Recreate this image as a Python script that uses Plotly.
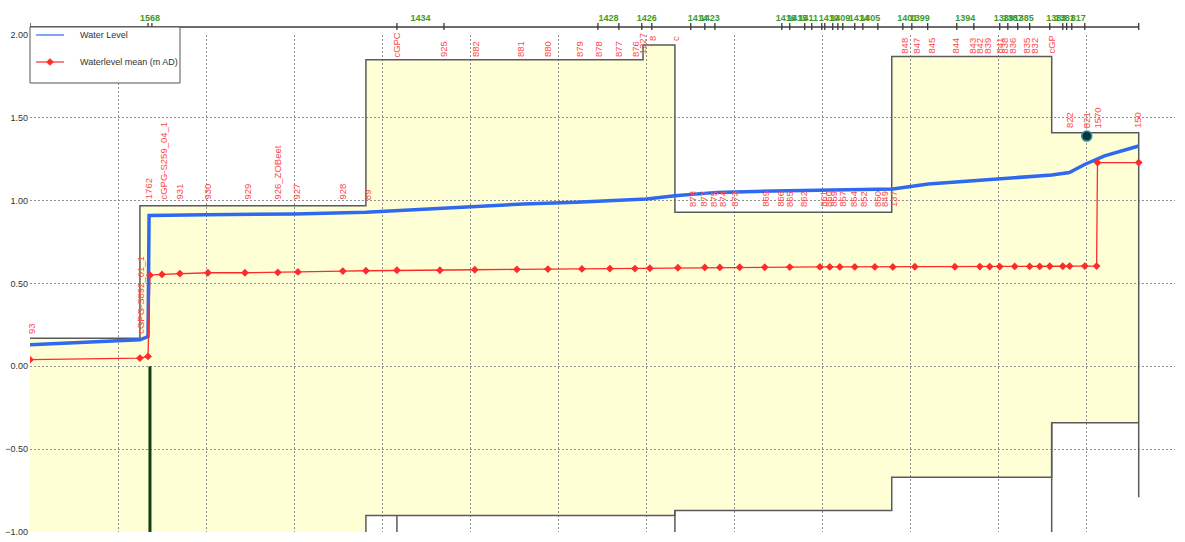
import plotly.graph_objects as go

# ---------------------------------------------------------------------------
# Reach boundaries along the long section (chainage, m) and reach names
# ---------------------------------------------------------------------------
node_ch = [0, 670, 692, 2083, 2350, 3224, 3343, 3473, 3530, 3751, 3831, 3888,
           4268, 4313, 4398, 4438, 4495, 4512, 4557, 4586, 4614, 4682, 4728,
           4813, 4955, 5006, 5096, 5261, 5358, 5505, 5551, 5607, 5675, 5789,
           5863, 5885, 5914, 5988, 6294]
reach_names = ["", "1568", "", "1434", "", "1428", "", "1426", "", "1414",
               "1423", "", "1416", "1415", "1411", "", "", "1410", "", "1409",
               "", "1414", "1405", "", "1401", "1399", "", "1394", "", "1389",
               "1387", "1385", "", "1383", "1381", "", "817", ""]

# ---------------------------------------------------------------------------
# Channel sections: start chainages (+ end), crest level and bed level
# ---------------------------------------------------------------------------
section_ch = [0, 624, 1907, 3480, 3661, 4892, 5800, 6294]
section_top = [0.17, 0.97, 1.85, 1.94, 0.93, 1.87, 1.41]
section_bed = [-1.2, -1.2, -0.90, -0.90, -0.87, -0.67, -0.34]
outfall_invert = -0.79
break_ch = [2083, 3661, 5800]
break_level = [-0.90, -0.87, -0.34]

weir_ch = 681
weir_crest = 0.0
gauge_ch = 5999
gauge_level = 1.39

# ---------------------------------------------------------------------------
# Water level profile (m AD)
# ---------------------------------------------------------------------------
wl_ch = [0, 300, 624, 670, 676, 1000, 1500, 1907, 2083, 2500, 2800, 3100,
         3500, 3661, 3900, 4300, 4600, 4898, 5100, 5350, 5600, 5800, 5900,
         5990, 6100, 6294]
wl = [0.13, 0.145, 0.16, 0.18, 0.91, 0.915, 0.92, 0.93, 0.94, 0.96, 0.98,
      0.99, 1.01, 1.03, 1.05, 1.06, 1.065, 1.07, 1.10, 1.12, 1.14, 1.155,
      1.17, 1.22, 1.27, 1.33]

# Mean water level at nodes (m AD)
mean_ch = [0, 624, 670, 681, 749, 851, 1010, 1220, 1407, 1521, 1776, 1907,
           2083, 2327, 2525, 2764, 2940, 3133, 3292, 3434, 3519, 3678, 3831,
           3916, 4029, 4171, 4313, 4484, 4540, 4597, 4682, 4796, 4898, 5023,
           5250, 5392, 5448, 5505, 5590, 5675, 5732, 5789, 5863, 5902, 5988,
           6055, 6060, 6294]
mean_wl = [0.04, 0.05, 0.06, 0.55, 0.555, 0.56, 0.565, 0.565, 0.567, 0.57,
           0.575, 0.577, 0.58, 0.58, 0.583, 0.585, 0.587, 0.588, 0.59, 0.59,
           0.592, 0.595, 0.597, 0.597, 0.598, 0.598, 0.599, 0.60, 0.60, 0.60,
           0.60, 0.60, 0.60, 0.601, 0.601, 0.602, 0.602, 0.602, 0.603, 0.603,
           0.603, 0.604, 0.604, 0.605, 0.605, 0.605, 1.23, 1.23]

# ---------------------------------------------------------------------------
# Node labels: name, chainage, base level of the label
# ---------------------------------------------------------------------------
label_names = ["93", "cGPG-S892_01_1",
               "1762", "cGPG-S259_04_1", "931", "930", "929", "926_ZOBeet",
               "927", "928", "89",
               "cGPC", "925", "882", "881", "880", "879", "878", "877", "876",
               "1227", "8", "c",
               "878", "877", "875", "874", "873", "869", "866", "865", "862",
               "861", "860", "859", "857", "854", "852", "850", "849", "137",
               "848", "847", "845", "844", "843", "842", "839", "841", "838",
               "836", "835", "832", "cGP",
               "822", "821", "1570", "150"]
label_ch = [10, 630,
            670, 760, 851, 1010, 1237, 1407, 1515, 1776, 1913,
            2083, 2344, 2525, 2781, 2934, 3116, 3224, 3337, 3434, 3479, 3530,
            3661,
            3757, 3819, 3876, 3927, 3995, 4171, 4256, 4308, 4387, 4500, 4529,
            4557, 4608, 4671, 4728, 4807, 4847, 4898,
            4966, 5034, 5119, 5255, 5352, 5392, 5437, 5505, 5533, 5579, 5658,
            5704, 5800,
            5902, 5999, 6061, 6288]
label_base = [0.19, 0.19,
              1.0, 1.0, 1.0, 1.0, 1.0, 1.0, 1.0, 1.0, 1.0,
              1.86, 1.86, 1.86, 1.86, 1.86, 1.86, 1.86, 1.86, 1.86, 1.88,
              1.96, 1.96,
              0.955, 0.955, 0.955, 0.955, 0.955, 0.955, 0.955, 0.955, 0.955,
              0.955, 0.955, 0.955, 0.955, 0.955, 0.955, 0.955, 0.955, 0.955,
              1.88, 1.88, 1.88, 1.88, 1.88, 1.88, 1.88, 1.88, 1.88, 1.88,
              1.88, 1.88, 1.88,
              1.43, 1.43, 1.43, 1.43]

legend_names = ["Water Level", "Waterlevel mean (m AD)"]

x_ticks = list(range(0, 6501, 500))
y_ticks = [-1.0, -0.5, 0.0, 0.5, 1.0, 1.5, 2.0]

# ---------------------------------------------------------------------------
FONT = "Liberation Sans, Arial, sans-serif"
OUTLINE = "#5a5a5a"
FILL = "#FFFFD6"
BLUE = "#2F69F0"
RED = "#FF2A2A"
LABEL_RED = "#FF4A4A"
GREEN_TXT = "#3C9A2A"

W, H = 1185, 542
ML, MR, MT, MB = 30, 10, 35, 10
PW, PH = W - ML - MR, H - MT - MB


def px_x(px):
    """Horizontal pixel position -> paper fraction."""
    return (px - ML) / PW


def px_y(py):
    """Vertical pixel position -> paper fraction."""
    return (H - MB - py) / PH


fig = go.Figure()

# Section fill as a stepped polygon drawn under the grid
pts = []
for i, t in enumerate(section_top):
    pts.append((section_ch[i], t))
    pts.append((section_ch[i + 1], t))
for i in reversed(range(len(section_bed))):
    pts.append((section_ch[i + 1], section_bed[i]))
    pts.append((section_ch[i], section_bed[i]))
path = "M " + " L ".join(f"{x},{y}" for x, y in pts) + " Z"
fig.add_shape(type="path", path=path, xref="x", yref="y", layer="below",
              fillcolor=FILL, line=dict(width=0))

# Section outlines
top_x, top_y = [], []
for i, t in enumerate(section_top):
    top_x += [section_ch[i], section_ch[i + 1]]
    top_y += [t, t]
top_x.append(section_ch[-1])
top_y.append(outfall_invert)
fig.add_trace(go.Scatter(x=top_x, y=top_y, mode="lines",
                         line=dict(color=OUTLINE, width=1.5),
                         showlegend=False, hoverinfo="skip"))

bed_x, bed_y = [section_ch[2]], [section_bed[0]]
for i in range(2, len(section_bed)):
    bed_x += [section_ch[i], section_ch[i + 1]]
    bed_y += [section_bed[i], section_bed[i]]
fig.add_trace(go.Scatter(x=bed_x, y=bed_y, mode="lines",
                         line=dict(color=OUTLINE, width=1.5),
                         showlegend=False, hoverinfo="skip"))
for bx, bl in zip(break_ch, break_level):
    fig.add_trace(go.Scatter(x=[bx, bx], y=[bl, section_bed[0]], mode="lines",
                             line=dict(color=OUTLINE, width=1.5),
                             showlegend=False, hoverinfo="skip"))

# Weir
fig.add_trace(go.Scatter(x=[weir_ch, weir_ch], y=[weir_crest, section_bed[0]],
                         mode="lines", line=dict(color="#123F12", width=3),
                         showlegend=False, hoverinfo="skip"))

# Water level and mean level
fig.add_trace(go.Scatter(x=wl_ch, y=wl, mode="lines",
                         line=dict(color=BLUE, width=3.5),
                         showlegend=False, name=legend_names[0]))
fig.add_trace(go.Scatter(x=mean_ch, y=mean_wl, mode="lines+markers",
                         line=dict(color=RED, width=1.3),
                         marker=dict(symbol="diamond", size=6, color=RED),
                         showlegend=False, name=legend_names[1]))

# Gauge point
fig.add_trace(go.Scatter(x=[gauge_ch], y=[gauge_level], mode="markers",
                         marker=dict(size=10, color="#0D3340",
                                     line=dict(color="#2B8E9C", width=1.5)),
                         showlegend=False, hoverinfo="skip"))

# Reach name axis along the top
mid = [(node_ch[i] + node_ch[i + 1]) / 2 for i in range(len(reach_names))]
lab_vals = [m for m, n in zip(mid, reach_names) if n]
lab_text = [f"<b>{n}</b>" for n in reach_names if n]
fig.add_trace(go.Scatter(x=[None], y=[None], xaxis="x2", showlegend=False,
                         hoverinfo="skip"))

# Top chainage line with reach boundary ticks
y_line = px_y(27)
fig.add_shape(type="line", xref="x", yref="paper", x0=node_ch[0],
              x1=node_ch[-1], y0=y_line, y1=y_line,
              line=dict(color="#3a3a3a", width=1.5))
for c in node_ch:
    fig.add_shape(type="line", xref="x", yref="paper", x0=c, x1=c,
                  y0=px_y(30), y1=px_y(23),
                  line=dict(color="#3a3a3a", width=1.3))

# Legend box in the top-left corner
fig.add_shape(type="rect", xref="paper", yref="paper",
              x0=px_x(30), x1=px_x(180), y0=px_y(83), y1=px_y(27),
              fillcolor="white", line=dict(color="#555555", width=1),
              layer="above")
legend_rows = [35, 62]
legend_colors = [BLUE, RED]
for name, row, col in zip(legend_names, legend_rows, legend_colors):
    fig.add_shape(type="line", xref="paper", yref="paper",
                  x0=px_x(36), x1=px_x(64), y0=px_y(row), y1=px_y(row),
                  line=dict(color=col, width=1.2), layer="above")
    fig.add_annotation(xref="paper", yref="paper", x=px_x(78), y=px_y(row),
                       text=name, showarrow=False, xanchor="left",
                       yanchor="middle",
                       font=dict(family=FONT, size=9, color="#333333"))
cx, cy = 50, legend_rows[1]
fig.add_shape(type="path", xref="paper", yref="paper", layer="above",
              path=(f"M {px_x(cx - 3.5)},{px_y(cy)} L {px_x(cx)},{px_y(cy - 3.5)} "
                    f"L {px_x(cx + 3.5)},{px_y(cy)} L {px_x(cx)},{px_y(cy + 3.5)} Z"),
              fillcolor=RED, line=dict(color=RED, width=0.5))

# Node labels
for name, c, b in zip(label_names, label_ch, label_base):
    fig.add_annotation(x=c, y=b, text=name, textangle=-90, showarrow=False,
                       xanchor="center", yanchor="bottom", borderpad=0,
                       font=dict(family=FONT, size=9.5, color=LABEL_RED))

grid = dict(showgrid=True, gridcolor="#8e8e8e", griddash="2px,2px",
            gridwidth=1, zeroline=False, showline=False)
fig.update_layout(
    width=W, height=H,
    margin=dict(l=ML, r=MR, t=MT, b=MB),
    paper_bgcolor="white", plot_bgcolor="rgba(0,0,0,0)",
    font=dict(family=FONT, size=9, color="#333333"),
    xaxis=dict(range=[0, 6500], tickvals=x_ticks,
               ticktext=[str(v) for v in x_ticks], ticks="",
               ticklabelstandoff=6, automargin=False,
               tickfont=dict(size=8, color="#555555"), **grid),
    yaxis=dict(range=[-1.0, 2.0], tickvals=y_ticks, tickformat=".2f",
               ticks="", automargin=False, ticklabelstandoff=1,
               tickfont=dict(size=9, color="#333333"), **grid),
    xaxis2=dict(overlaying="x", side="top", range=[0, 6500],
                tickvals=lab_vals, ticktext=lab_text, tickangle=0,
                ticks="", showgrid=False, zeroline=False, showline=False,
                automargin=False, ticklabelstandoff=11,
                tickfont=dict(size=9, color=GREEN_TXT, family=FONT)),
    showlegend=False,
)

fig.write_html("out.html")
